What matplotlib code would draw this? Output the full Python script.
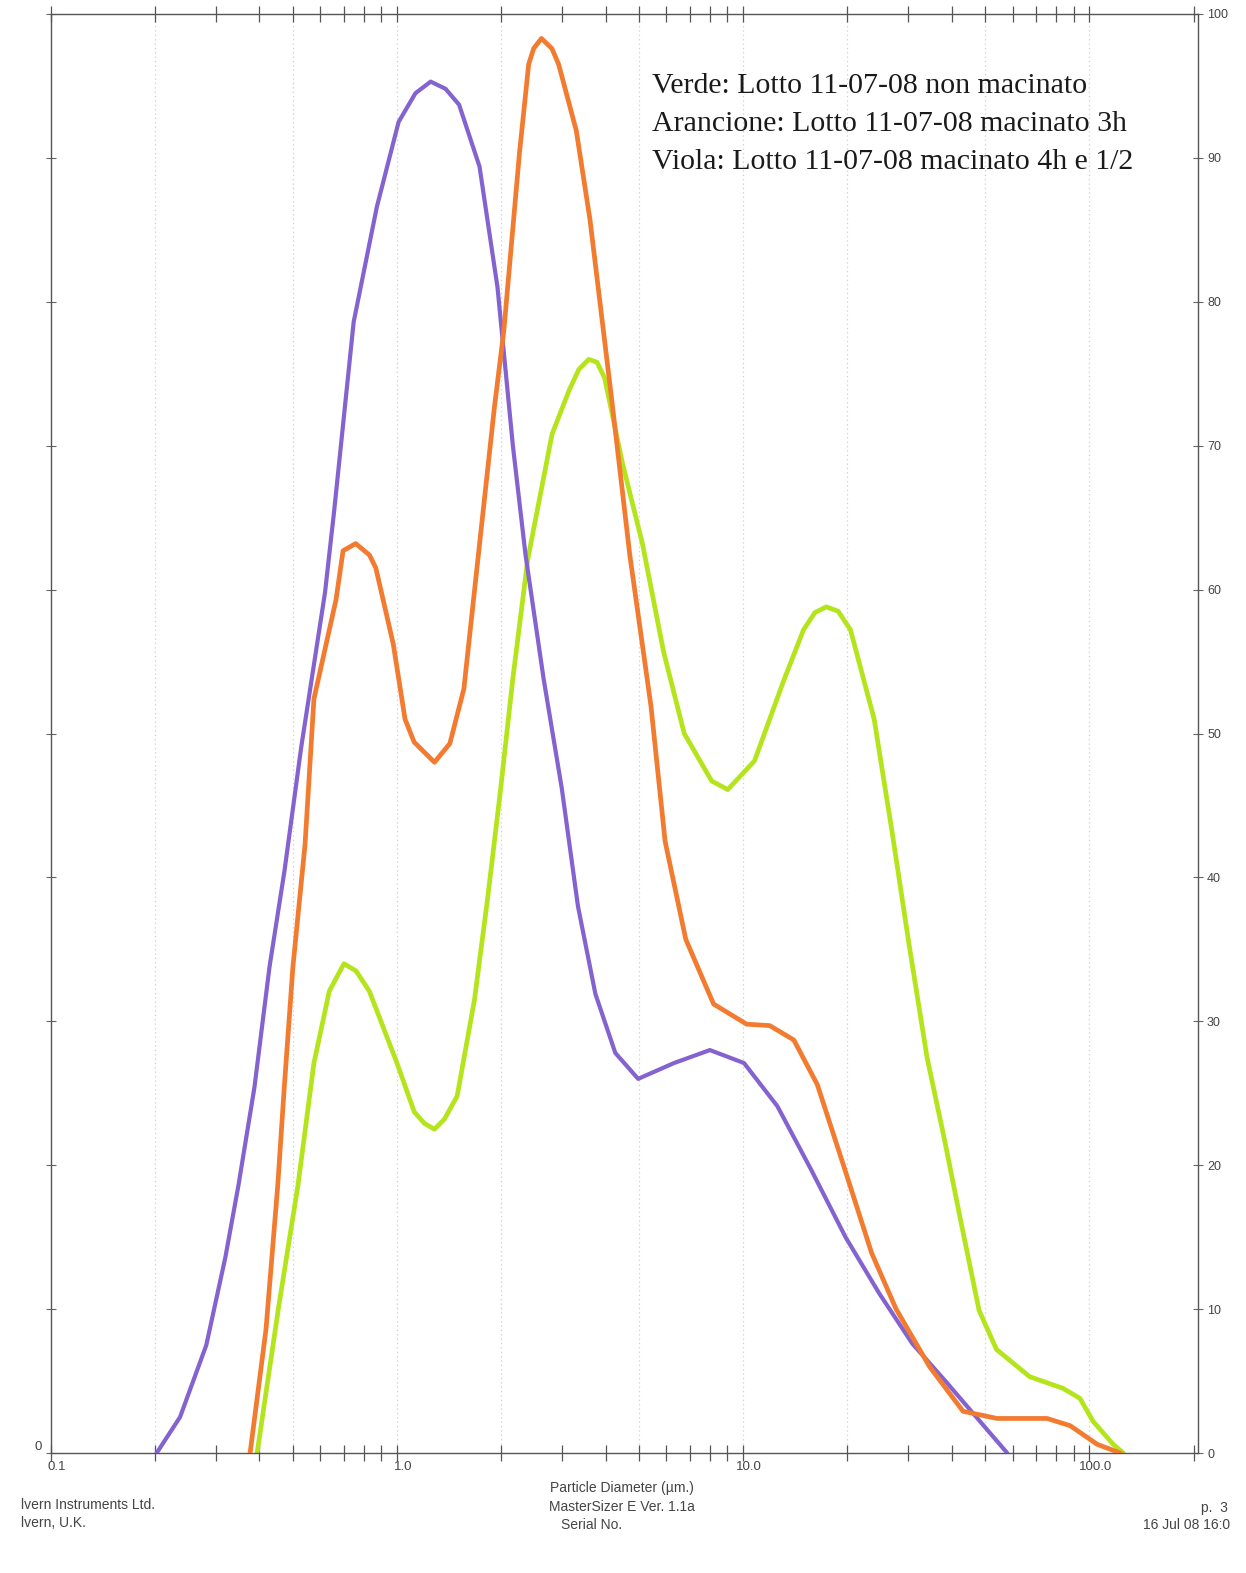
import matplotlib
matplotlib.use("Agg")
import matplotlib.pyplot as plt
import matplotlib.transforms as mtransforms
from matplotlib.ticker import LogLocator, NullFormatter

# ── data: particle diameter (µm) vs volume % ─────────────────────────────────

viola_d = [0.202, 0.236, 0.281, 0.319, 0.348, 0.387, 0.428, 0.473, 0.528, 0.619,
           0.658, 0.749, 0.874, 1.01, 1.13, 1.25, 1.38, 1.51, 1.73, 1.95, 2.16,
           2.35, 2.65, 2.99, 3.33, 3.74, 4.27, 4.97, 6.31, 8.01, 10.05, 12.55,
           15.7, 19.75, 24.7, 30.8, 38.7, 48.3, 57.9]
viola_v = [0, 2.5, 7.5, 13.6, 18.6, 25.4, 33.8, 40.5, 49.0, 59.8,
           65.5, 78.6, 86.6, 92.5, 94.5, 95.3, 94.8, 93.7, 89.4, 81.0, 70.0,
           62.4, 53.8, 46.2, 38.0, 31.9, 27.8, 26.0, 27.1, 28.0, 27.1, 24.1,
           19.7, 15.0, 11.1, 7.6, 4.9, 2.2, 0]

arancione_d = [0.376, 0.418, 0.452, 0.472, 0.500, 0.542, 0.575, 0.666, 0.698, 0.759,
               0.832, 0.868, 0.975, 1.054, 1.12, 1.282, 1.42, 1.559, 1.731, 1.911,
               2.034, 2.256, 2.399, 2.48, 2.612, 2.80, 2.929, 3.293, 3.608, 4.164,
               4.702, 5.413, 5.947, 6.822, 8.209, 10.23, 11.93, 14.0, 16.37, 19.66,
               23.49, 27.65, 34.54, 43.15, 54.1, 75.5, 88.0, 105.4, 122.9]
arancione_v = [0, 8.6, 18.6, 25.4, 33.8, 42.3, 52.4, 59.3, 62.7, 63.2,
               62.4, 61.5, 56.2, 51.0, 49.4, 48.0, 49.3, 53.1, 63.2, 72.7,
               78.0, 90.3, 96.5, 97.6, 98.3, 97.6, 96.5, 91.9, 85.7, 73.3,
               62.4, 51.9, 42.5, 35.7, 31.2, 29.8, 29.7, 28.7, 25.6, 19.7,
               13.9, 10.0, 6.0, 2.9, 2.4, 2.4, 1.9, 0.6, 0]

verde_d = [0.394, 0.455, 0.517, 0.575, 0.637, 0.702, 0.761, 0.831, 0.999, 1.121,
           1.20, 1.282, 1.37, 1.491, 1.673, 1.825, 1.99, 2.159, 2.385, 2.803,
           3.146, 3.35, 3.577, 3.78, 3.977, 4.476, 5.113, 5.884, 6.753, 8.105,
           9.02, 10.78, 13.1, 14.93, 16.1, 17.37, 18.8, 20.41, 23.89, 26.94,
           30.15, 33.96, 38.2, 42.69, 48.03, 53.9, 67.25, 83.8, 93.9, 102.5,
           117.2, 125.4]
verde_v = [0, 10.2, 18.6, 27.1, 32.1, 34.0, 33.5, 32.1, 27.1, 23.7,
           22.9, 22.5, 23.2, 24.8, 31.5, 38.5, 46.1, 53.8, 62.1, 70.8,
           73.9, 75.3, 76.0, 75.8, 74.7, 68.8, 63.2, 55.7, 50.0, 46.7,
           46.1, 48.1, 53.7, 57.2, 58.4, 58.8, 58.5, 57.2, 51.0, 43.1,
           35.3, 27.5, 21.7, 15.9, 9.9, 7.2, 5.3, 4.5, 3.8, 2.2,
           0.6, 0]

x_ticks = [0.1, 1, 10, 100]
x_ticklabels = ["0.1", "1.0", "10.0", "100.0"]
y_ticks = list(range(0, 101, 10))
grid_x = [0.2, 0.5, 1, 2, 5, 10, 20, 50, 100]

legend_lines = ["Verde: Lotto 11-07-08 non macinato",
                "Arancione: Lotto 11-07-08 macinato 3h",
                "Viola: Lotto 11-07-08 macinato 4h e 1/2"]

# ── figure ───────────────────────────────────────────────────────────────────

W, H = 1246, 1573
fig = plt.figure(figsize=(W / 100, H / 100), dpi=100)
fig.patch.set_facecolor("white")

def fx(px):
    return px / W

def fy(py):
    return 1 - py / H

ax = fig.add_axes([fx(51), fy(1453), fx(1198) - fx(51), fy(14) - fy(1453)])
ax.set_xscale("log")
ax.set_xlim(0.1, 206)
ax.set_ylim(0, 100)

for gx in grid_x:
    ax.axvline(gx, color="#cfcfcf", lw=0.9, ls=(0, (1, 2.5)), zorder=0)

line_kw = dict(solid_joinstyle="round", solid_capstyle="round")
ax.plot(viola_d, viola_v, color="#8462cf", lw=3.0, zorder=3, **line_kw)
ax.plot(arancione_d, arancione_v, color="#f27b30", lw=3.4, zorder=4, **line_kw)
ax.plot(verde_d, verde_v, color="#b4e51c", lw=3.4, zorder=2, **line_kw)

for s in ax.spines.values():
    s.set_color("#555555")
    s.set_linewidth(1.0)

# x axis: ticks on bottom and top, crossing the axis
ax.set_xticks(x_ticks)
ax.set_xticklabels(x_ticklabels)
ax.xaxis.set_minor_locator(LogLocator(base=10, subs=range(2, 10)))
ax.xaxis.set_minor_formatter(NullFormatter())
ax.xaxis.set_ticks_position("both")
ax.tick_params(axis="x", which="both", direction="inout", length=11, width=0.9,
               color="#555555", labelsize=9.5, labelcolor="#444444", pad=0)
shift = mtransforms.ScaledTranslation(6 / 100, 0, fig.dpi_scale_trans)
for lab in ax.get_xticklabels():
    lab.set_transform(lab.get_transform() + shift)
    lab.set_family("Liberation Sans")

# y axis: labels on the right, small marks on both sides
ax.set_yticks(y_ticks)
ax.yaxis.tick_right()
ax.tick_params(axis="y", which="both", left=True, right=True, direction="inout",
               length=7, width=0.8, color="#666666", labelsize=9,
               labelcolor="#444444", pad=3)
for lab in ax.get_yticklabels():
    lab.set_family("Liberation Sans")

fig.text(fx(38), fy(1447), "0", ha="center", va="center", fontsize=9.5,
         color="#444444", family="Liberation Sans")

# legend notes in the upper right
for i, line in enumerate(legend_lines):
    fig.text(fx(652), fy(93 + 38 * i), line, ha="left", va="baseline",
             fontsize=21.5, color="#1a1a1a", family="Liberation Serif")

# footer text of the instrument printout (left block truncated on the scan)
gray = "#444444"
fig.text(fx(622), fy(1488), "Particle Diameter (\u00b5m.)", ha="center", va="center",
         fontsize=10, color=gray, family="Liberation Sans")
fig.text(fx(622), fy(1507), "MasterSizer E Ver. 1.1a", ha="center", va="center",
         fontsize=10, color=gray, family="Liberation Sans")
fig.text(fx(561), fy(1525), "Serial No.", ha="left", va="center",
         fontsize=10, color=gray, family="Liberation Sans")
fig.text(fx(21), fy(1505), "lvern Instruments Ltd.", ha="left", va="center",
         fontsize=10, color=gray, family="Liberation Sans")
fig.text(fx(21), fy(1523), "lvern, U.K.", ha="left", va="center",
         fontsize=10, color=gray, family="Liberation Sans")
fig.text(fx(1228), fy(1508), "p.  3", ha="right", va="center",
         fontsize=10, color=gray, family="Liberation Sans")
fig.text(fx(1230), fy(1525), "16 Jul 08 16:0", ha="right", va="center",
         fontsize=10, color=gray, family="Liberation Sans")

fig.savefig("out.png", dpi=100)
